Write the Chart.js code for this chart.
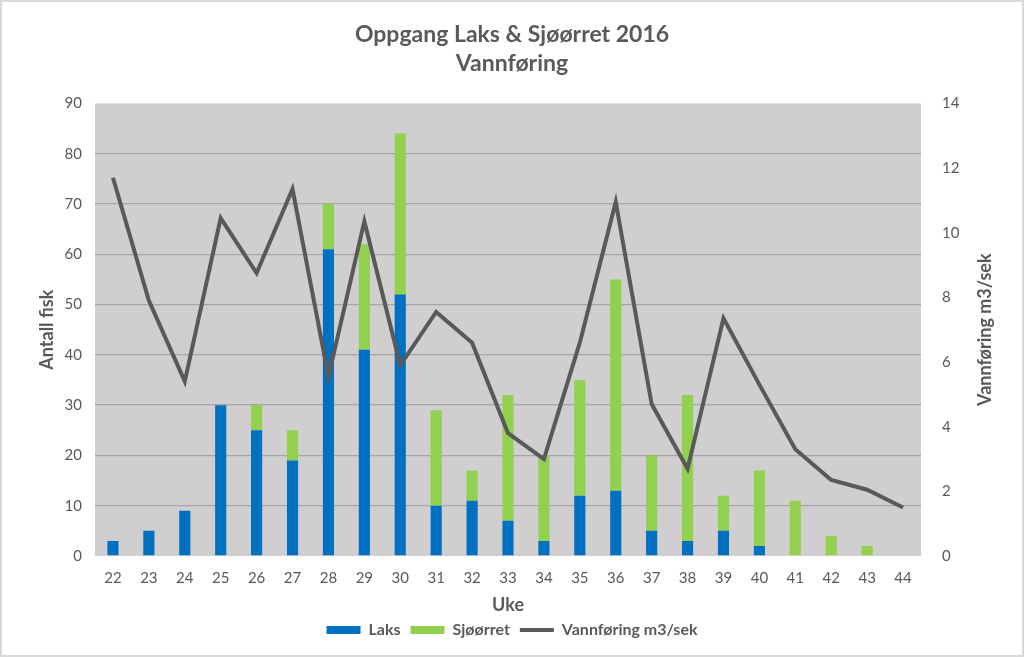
<!DOCTYPE html>
<html>
<head>
<meta charset="utf-8">
<script src="https://cdn.jsdelivr.net/npm/chart.js@4"></script>
<style>
  html, body { margin: 0; padding: 0; background: #fff; }
  #wrap { width: 1024px; height: 657px; }
</style>
</head>
<body>
<div id="wrap"><canvas id="chart" width="1024" height="657"></canvas></div>
<script>
const weeks = ['22','23','24','25','26','27','28','29','30','31','32','33','34','35','36','37','38','39','40','41','42','43','44'];
const laks = [3, 5, 9, 30, 25, 19, 61, 41, 52, 10, 11, 7, 3, 12, 13, 5, 3, 5, 2, 0, 0, 0, 0];
const sjoorret = [0, 0, 0, 0, 5, 6, 9, 21, 32, 19, 6, 25, 17, 23, 42, 15, 29, 7, 15, 11, 4, 2, 0];
const vannforing = [11.7, 7.9, 5.4, 10.45, 8.75, 11.35, 5.55, 10.35, 5.9, 7.55, 6.6, 3.8, 3.0, 6.6, 10.95, 4.7, 2.7, 7.35, 5.3, 3.3, 2.35, 2.05, 1.5];
const leftTicks = [0, 10, 20, 30, 40, 50, 60, 70, 80, 90];
const rightTicks = [0, 2, 4, 6, 8, 10, 12, 14];
const rightTitle = 'Vannføring m3/sek';

const grey = '#595959';

// grey plot background, thin frame, and the right axis title read bottom-up
const plotBg = {
  id: 'plotBg',
  beforeDraw(chart) {
    const { ctx, chartArea: a } = chart;
    ctx.save();
    ctx.fillStyle = '#d0cece';
    ctx.fillRect(a.left, a.top, a.right - a.left, a.bottom - a.top);
    ctx.strokeStyle = '#d9d9d9';
    ctx.lineWidth = 2;
    ctx.strokeRect(1, 1, chart.width - 2, chart.height - 2);
    ctx.restore();
  },
  afterDraw(chart) {
    const { ctx, chartArea: a } = chart;
    ctx.save();
    ctx.translate(985, (a.top + a.bottom) / 2);
    ctx.rotate(-Math.PI / 2);
    ctx.fillStyle = grey;
    ctx.font = 'bold 18px Lato';
    ctx.textAlign = 'center';
    ctx.textBaseline = 'middle';
    ctx.fillText(rightTitle, 0, 0);
    ctx.restore();
  }
};

const ctx = document.getElementById('chart');

new Chart(ctx, {
  type: 'bar',
  data: {
    labels: weeks,
    datasets: [
      {
        label: 'Vannføring m3/sek',
        type: 'line',
        data: vannforing,
        yAxisID: 'y2',
        borderColor: grey,
        backgroundColor: grey,
        borderWidth: 4,
        pointRadius: 0,
        pointStyle: 'line',
        tension: 0,
        order: 0
      },
      {
        label: 'Laks',
        data: laks,
        backgroundColor: '#0070c0',
        stack: 'fisk',
        pointStyle: 'rect',
        order: 1
      },
      {
        label: 'Sjøørret',
        data: sjoorret,
        backgroundColor: '#92d050',
        stack: 'fisk',
        pointStyle: 'rect',
        order: 1
      }
    ]
  },
  options: {
    responsive: false,
    animation: false,
    layout: { padding: { left: 0, right: 0, top: 0, bottom: 9 } },
    datasets: {
      bar: { categoryPercentage: 1, barPercentage: 0.31 }
    },
    plugins: {
      title: {
        display: true,
        text: ['Oppgang Laks & Sjøørret 2016', 'Vannføring'],
        color: grey,
        font: { family: 'Lato', size: 23, weight: 'bold', lineHeight: 1.27 },
        padding: { top: 20, bottom: 25 }
      },
      legend: {
        position: 'bottom',
        labels: {
          usePointStyle: true,
          pointStyleWidth: 34,
          boxHeight: 8,
          color: grey,
          padding: 10,
          font: { family: 'Lato', size: 16, weight: 'bold' },
          sort: (a, b) => {
            const order = ['Laks', 'Sjøørret', 'Vannføring m3/sek'];
            return order.indexOf(a.text) - order.indexOf(b.text);
          }
        }
      },
      tooltip: { enabled: false }
    },
    scales: {
      x: {
        stacked: true,
        afterFit: s => { s.height = 56; },
        grid: { display: false },
        border: { display: false },
        ticks: { color: grey, font: { family: 'Lato', size: 15 }, padding: 5 },
        title: {
          display: true,
          text: 'Uke',
          color: grey,
          font: { family: 'Lato', size: 18, weight: 'bold' },
          padding: { top: 0, bottom: -4 }
        }
      },
      y: {
        stacked: true,
        position: 'left',
        min: 0,
        max: 90,
        afterFit: s => { s.width = 95; },
        afterBuildTicks: s => { s.ticks = leftTicks.map(v => ({ value: v })); },
        grid: {
          color: c => (c.tick.value === 0 || c.tick.value === 90) ? 'rgba(0,0,0,0)' : '#a6a6a6',
          lineWidth: 1.3,
          drawTicks: false
        },
        border: { display: false },
        ticks: { color: grey, font: { family: 'Lato', size: 15 }, padding: 13 },
        title: {
          display: true,
          text: 'Antall fisk',
          color: grey,
          font: { family: 'Lato', size: 18, weight: 'bold' },
          padding: { top: 36, bottom: 0 }
        }
      },
      y2: {
        stacked: false,
        position: 'right',
        min: 0,
        max: 14,
        afterFit: s => { s.width = 103; },
        afterBuildTicks: s => { s.ticks = rightTicks.map(v => ({ value: v })); },
        grid: { display: false },
        border: { display: false },
        ticks: { color: grey, font: { family: 'Lato', size: 15 }, padding: 13 }
      }
    }
  },
  plugins: [plotBg]
});
</script>
</body>
</html>
